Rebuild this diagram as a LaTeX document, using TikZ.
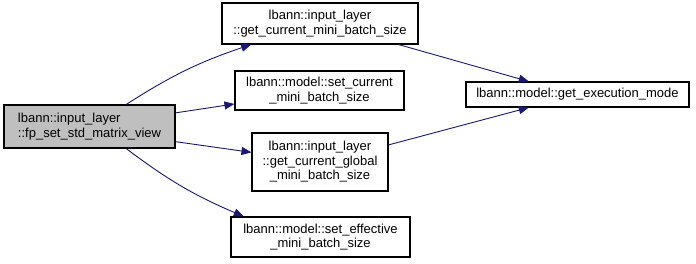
\documentclass[tikz,border=0pt]{standalone}
\usepackage{fontspec}
\setmainfont{Liberation Sans}
\usetikzlibrary{arrows.meta}
\definecolor{edgeblue}{HTML}{191970}
\definecolor{rootgray}{HTML}{BFBFBF}
\tikzset{
  fn/.style={draw=black, line width=1.1pt, fill=white, inner sep=0pt,
    align=center, font=\fontsize{13}{14.5}\selectfont},
  rootfn/.style={fn, fill=rootgray, align=left},
  call/.style={draw=edgeblue, line width=0.9pt,
    -{Triangle[length=10pt,width=8pt]}},
}
\begin{document}
\begin{tikzpicture}[x=1pt, y=-1pt]
  \useasboundingbox (0,0) rectangle (696,263);

  \node[rootfn, minimum width=171pt, minimum height=43pt] (root) at (89.5,126.5)
    {lbann::input\_layer\\::fp\_set\_std\_matrix\_view};
  \node[fn, minimum width=196pt, minimum height=41pt] (curmini) at (320,23.5)
    {lbann::input\_layer\\::get\_current\_mini\_batch\_size};
  \node[fn, minimum width=169pt, minimum height=39pt] (setcur) at (319.5,90.5)
    {lbann::model::set\_current\\\_mini\_batch\_size};
  \node[fn, minimum width=136pt, minimum height=58pt] (curglob) at (320,162)
    {lbann::input\_layer\\::get\_current\_global\\\_mini\_batch\_size};
  \node[fn, minimum width=179pt, minimum height=40pt] (seteff) at (320.5,237)
    {lbann::model::set\_effective\\\_mini\_batch\_size};
  \node[fn, minimum width=223pt, minimum height=25pt] (execmode) at (577.5,94.5)
    {lbann::model::get\_execution\_mode};

  \draw[call] (root.31) to[bend left=7] (curmini.197);
  \draw[call] (root.9) -- (setcur.189);
  \draw[call] (root.-10) -- (curglob.172);
  \draw[call] (root.-31) to[bend right=7] (seteff.165);
  \draw[call] (curmini.-15) -- (execmode.165);
  \draw[call] (curglob.14) -- (execmode.195);
\end{tikzpicture}
\end{document}
